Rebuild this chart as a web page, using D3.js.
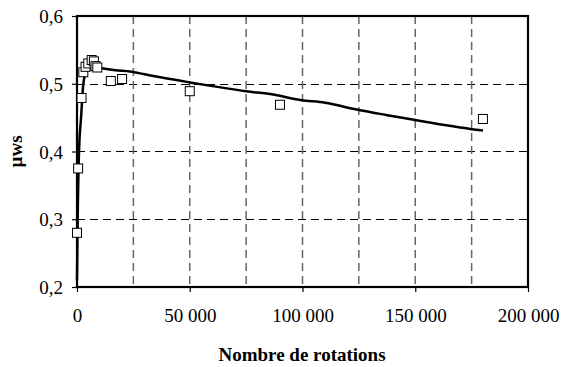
<!DOCTYPE html>
<html><head><meta charset="utf-8">
<script src="https://cdn.jsdelivr.net/npm/d3@7"></script>
<style>body{margin:0;background:#fff}svg{display:block}</style>
</head><body>
<script>
const xTicks = [0, 50000, 100000, 150000, 200000];
const yTicks = [0.2, 0.3, 0.4, 0.5, 0.6];
const xGrid = [25000, 50000, 75000, 100000, 125000, 150000, 175000];
const yGrid = [0.3, 0.4, 0.5];
// measured points
const ptX = [0, 500, 2000, 2800, 3800, 5000, 6500, 7500, 8200, 9000, 15000, 20000, 50000, 90000, 180000];
const ptY = [0.28, 0.375, 0.479, 0.517, 0.525, 0.53, 0.535, 0.533, 0.526, 0.524, 0.504, 0.507, 0.489, 0.469, 0.448];
// fitted curve
const lnX = [0, 300, 900, 1800, 2800, 3800, 5500, 8000, 11000, 17000, 23500, 30000, 37000, 50000, 63000, 75000, 87000, 99000, 110000, 124000, 137000, 150000, 163000, 175000, 180000];
const lnY = [0.21, 0.30, 0.40, 0.45, 0.50, 0.515, 0.523, 0.525, 0.523, 0.520, 0.518, 0.514, 0.5095, 0.502, 0.495, 0.489, 0.484, 0.476, 0.472, 0.462, 0.454, 0.4465, 0.439, 0.433, 0.431];

const W = 562, H = 367;
const m = {l: 77, r: 528, t: 16, b: 287};
const svg = d3.select("body").append("svg").attr("width", W).attr("height", H);
const x = d3.scaleLinear().domain([0, 200000]).range([m.l, m.r]);
const y = d3.scaleLinear().domain([0.2, 0.6]).range([m.b, m.t]);
const font = "'Liberation Serif','Times New Roman',serif";

// grid
svg.append("g").selectAll("line").data(yGrid).join("line")
  .attr("x1", m.l).attr("x2", m.r).attr("y1", d => Math.round(y(d)) + 0.5).attr("y2", d => Math.round(y(d)) + 0.5)
  .attr("stroke", "#000").attr("stroke-width", 1).attr("stroke-dasharray", "8,5");
svg.append("g").selectAll("line").data(xGrid).join("line")
  .attr("y1", m.t).attr("y2", m.b).attr("x1", d => x(d)).attr("x2", d => x(d))
  .attr("stroke", "#666").attr("stroke-width", 1.5).attr("stroke-dasharray", "8,5");

// axes
const fmt = d => d3.format(",")(d).replace(/,/g, " ");
const xAxis = d3.axisBottom(x).tickValues(xTicks).tickSize(5).tickFormat(fmt);
const yAxis = d3.axisLeft(y).tickValues(yTicks).tickSize(5).tickFormat(d => d3.format(".1f")(d).replace(".", ","));
const gx = svg.append("g").attr("transform", `translate(0,${m.b})`).call(xAxis);
const gy = svg.append("g").attr("transform", `translate(${m.l},0)`).call(yAxis);
[gx, gy].forEach(g => {
  g.select(".domain").remove();
  g.selectAll("line").attr("stroke", "#000").attr("stroke-width", 1.2);
  g.selectAll("text").attr("font-family", font).attr("font-size", 19).attr("fill", "#000");
});
gx.selectAll("text").attr("dy", "0").attr("y", 35);
gy.selectAll("text").attr("x", -14).attr("dy", "0.35em");

// frame
svg.append("rect").attr("x", m.l).attr("y", m.t).attr("width", m.r - m.l).attr("height", m.b - m.t)
  .attr("fill", "none").attr("stroke", "#000").attr("stroke-width", 2.2);

// curve
const lineData = lnX.map((v, i) => [v, lnY[i]]);
svg.append("path").datum(lineData)
  .attr("d", d3.line().x(d => x(d[0])).y(d => y(d[1])).curve(d3.curveMonotoneX))
  .attr("fill", "none").attr("stroke", "#000").attr("stroke-width", 2.5);

// points
const pts = ptX.map((v, i) => [v, ptY[i]]);
const s = 9;
svg.append("g").selectAll("rect").data(pts).join("rect")
  .attr("x", d => x(d[0]) - s / 2).attr("y", d => y(d[1]) - s / 2).attr("width", s).attr("height", s)
  .attr("fill", "#fff").attr("stroke", "#000").attr("stroke-width", 1);

// titles
svg.append("text").attr("x", 302).attr("y", 361).attr("text-anchor", "middle")
  .attr("font-family", font).attr("font-weight", "bold").attr("font-size", 19).text("Nombre de rotations");
svg.append("text").attr("transform", `translate(22,${(m.t + m.b) / 2}) rotate(-90)`).attr("text-anchor", "middle")
  .attr("font-family", font).attr("font-weight", "bold").attr("font-size", 19).text("µws");
</script>
</body></html>
